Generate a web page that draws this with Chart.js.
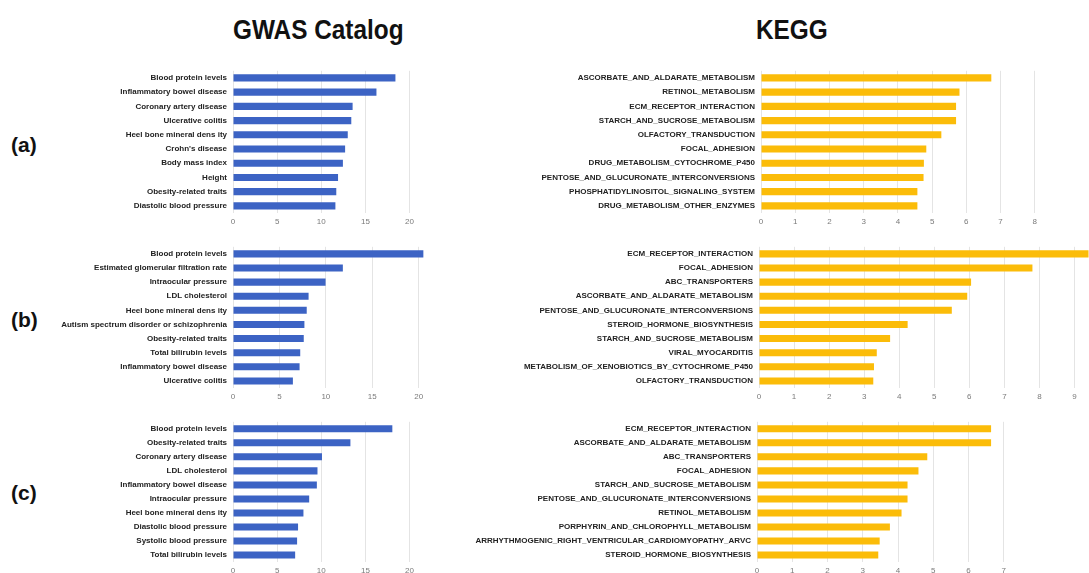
<!DOCTYPE html>
<html>
<head>
<meta charset="utf-8">
<script src="https://cdn.jsdelivr.net/npm/chart.js@4.4.1/dist/chart.umd.min.js"></script>
<style>
  html, body { margin: 0; padding: 0; background: #fff; width: 1089px; height: 573px; overflow: hidden; position: relative; }
  canvas { position: absolute; }
  .title { position: absolute; font-family: "Liberation Sans", Arial, sans-serif; font-weight: bold; font-size: 28px; color: #111; line-height: 1; white-space: nowrap; transform: scaleX(0.87); transform-origin: 0 0; }
  .tag { position: absolute; font-family: "Liberation Sans", Arial, sans-serif; font-weight: bold; font-size: 21px; color: #111; line-height: 1; }
</style>
</head>
<body>
<div class="title" style="left:233px;top:16px;">GWAS Catalog</div>
<div class="title" style="left:756px;top:16px;">KEGG</div>
<div class="tag" style="left:11px;top:134px;">(a)</div>
<div class="tag" style="left:11px;top:309px;">(b)</div>
<div class="tag" style="left:11px;top:482px;">(c)</div>

<canvas id="gwasA" width="418" height="172" style="left:0;top:60px"></canvas>
<canvas id="gwasB" width="428" height="171" style="left:0;top:236px"></canvas>
<canvas id="gwasC" width="418" height="170" style="left:0;top:411px"></canvas>
<canvas id="keggA" width="601" height="172" style="left:440px;top:60px"></canvas>
<canvas id="keggB" width="678" height="171" style="left:440px;top:236px"></canvas>
<canvas id="keggC" width="570" height="170" style="left:440px;top:411px"></canvas>

<script>
// ---- GWAS Catalog traits ----
const gwasLabelsA = ["Blood protein levels", "Inflammatory bowel disease", "Coronary artery disease", "Ulcerative colitis", "Heel bone mineral dens ity", "Crohn's disease", "Body mass index", "Height", "Obesity-related traits", "Diastolic blood pressure"];
const gwasValuesA = [18.4, 16.25, 13.55, 13.4, 13.0, 12.7, 12.45, 11.9, 11.7, 11.6];

const gwasLabelsB = ["Blood protein levels", "Estimated glomerular filtration rate", "Intraocular pressure", "LDL cholesterol", "Heel bone mineral dens ity", "Autism spectrum disorder or schizophrenia", "Obesity-related traits", "Total bilirubin levels", "Inflammatory bowel disease", "Ulcerative colitis"];
const gwasValuesB = [20.5, 11.83, 9.97, 8.14, 7.94, 7.69, 7.62, 7.24, 7.17, 6.45];

const gwasLabelsC = ["Blood protein levels", "Obesity-related traits", "Coronary artery disease", "LDL cholesterol", "Inflammatory bowel disease", "Intraocular pressure", "Heel bone mineral dens ity", "Diastolic blood pressure", "Systolic blood pressure", "Total bilirubin levels"];
const gwasValuesC = [18.05, 13.3, 10.08, 9.57, 9.5, 8.63, 7.98, 7.37, 7.26, 7.04];

// ---- KEGG pathways ----
const keggLabelsA = ["ASCORBATE_AND_ALDARATE_METABOLISM", "RETINOL_METABOLISM", "ECM_RECEPTOR_INTERACTION", "STARCH_AND_SUCROSE_METABOLISM", "OLFACTORY_TRANSDUCTION", "FOCAL_ADHESION", "DRUG_METABOLISM_CYTOCHROME_P450", "PENTOSE_AND_GLUCURONATE_INTERCONVERSIONS", "PHOSPHATIDYLINOSITOL_SIGNALING_SYSTEM", "DRUG_METABOLISM_OTHER_ENZYMES"];
const keggValuesA = [6.73, 5.80, 5.70, 5.70, 5.27, 4.83, 4.76, 4.75, 4.57, 4.57];

const keggLabelsB = ["ECM_RECEPTOR_INTERACTION", "FOCAL_ADHESION", "ABC_TRANSPORTERS", "ASCORBATE_AND_ALDARATE_METABOLISM", "PENTOSE_AND_GLUCURONATE_INTERCONVERSIONS", "STEROID_HORMONE_BIOSYNTHESIS", "STARCH_AND_SUCROSE_METABOLISM", "VIRAL_MYOCARDITIS", "METABOLISM_OF_XENOBIOTICS_BY_CYTOCHROME_P450", "OLFACTORY_TRANSDUCTION"];
const keggValuesB = [9.4, 7.80, 6.05, 5.94, 5.50, 4.24, 3.74, 3.36, 3.28, 3.26];

const keggLabelsC = ["ECM_RECEPTOR_INTERACTION", "ASCORBATE_AND_ALDARATE_METABOLISM", "ABC_TRANSPORTERS", "FOCAL_ADHESION", "STARCH_AND_SUCROSE_METABOLISM", "PENTOSE_AND_GLUCURONATE_INTERCONVERSIONS", "RETINOL_METABOLISM", "PORPHYRIN_AND_CHLOROPHYLL_METABOLISM", "ARRHYTHMOGENIC_RIGHT_VENTRICULAR_CARDIOMYOPATHY_ARVC", "STEROID_HORMONE_BIOSYNTHESIS"];
const keggValuesC = [6.64, 6.64, 4.83, 4.58, 4.27, 4.27, 4.10, 3.77, 3.48, 3.44];

// ---- axis ticks ----
const gwasTicks = [0, 5, 10, 15, 20];
const keggTicksA = [0, 1, 2, 3, 4, 5, 6, 7, 8];
const keggTicksB = [0, 1, 2, 3, 4, 5, 6, 7, 8, 9, 10];
const keggTicksC = [0, 1, 2, 3, 4, 5, 6, 7];

const BLUE = "#3c63c4";
const YELLOW = "#fbbc09";

function hbar(id, labels, values, color, ticks, max, yWidth, labelFont) {
  return new Chart(document.getElementById(id), {
    type: "bar",
    data: {
      labels: labels,
      datasets: [{ data: values, backgroundColor: color, borderWidth: 0, barPercentage: 0.5, categoryPercentage: 1.0 }]
    },
    options: {
      indexAxis: "y",
      responsive: false,
      animation: false,
      devicePixelRatio: 1,
      layout: { padding: 0 },
      plugins: { legend: { display: false }, tooltip: { enabled: false } },
      scales: {
        x: {
          min: 0,
          max: max,
          afterBuildTicks: (axis) => { axis.ticks = ticks.map(v => ({ value: v })); },
          afterFit: (axis) => { axis.height = 19; },
          grid: { color: "#e4e4e4", lineWidth: 1, drawTicks: false },
          border: { display: false },
          ticks: { padding: 4, color: "#7a7a7a", font: { family: "Liberation Sans, Arial, sans-serif", size: 8 }, maxRotation: 0, autoSkip: false }
        },
        y: {
          afterFit: (axis) => { axis.width = yWidth; },
          grid: { display: false, drawTicks: false },
          border: { display: false },
          ticks: { padding: 6, color: "#222", font: labelFont, autoSkip: false }
        }
      }
    }
  });
}

const gwasFont = { family: "Liberation Sans, Arial, sans-serif", size: 8, weight: "bold" };
const keggFont = { family: "Liberation Sans, Arial, sans-serif", size: 8, weight: "bold" };

hbar("gwasA", gwasLabelsA, gwasValuesA, BLUE, gwasTicks, 20, 233, gwasFont);
hbar("gwasB", gwasLabelsB, gwasValuesB, BLUE, gwasTicks, 21, 233, gwasFont);
hbar("gwasC", gwasLabelsC, gwasValuesC, BLUE, gwasTicks, 20, 233, gwasFont);
hbar("keggA", keggLabelsA, keggValuesA, YELLOW, keggTicksA, 8, 321, keggFont);
hbar("keggB", keggLabelsB, keggValuesB, YELLOW, keggTicksB, 10, 319, keggFont);
hbar("keggC", keggLabelsC, keggValuesC, YELLOW, keggTicksC, 7, 317, keggFont);
</script>
</body>
</html>
